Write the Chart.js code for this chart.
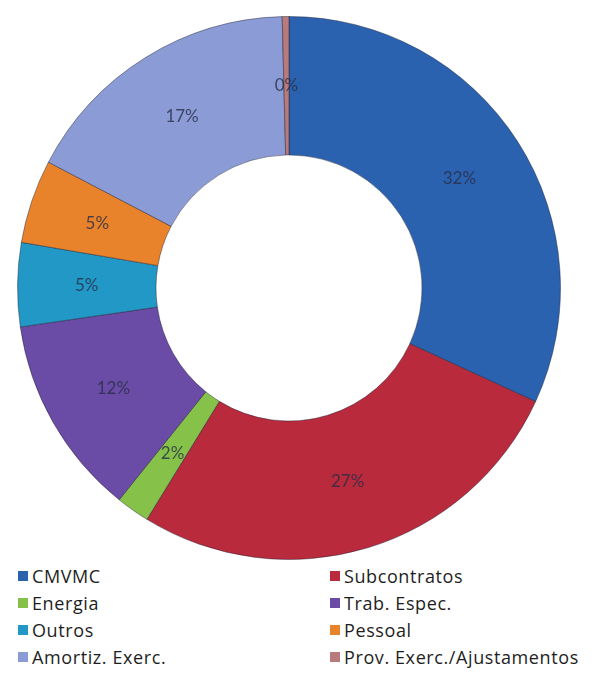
<!DOCTYPE html>
<html>
<head>
<meta charset="utf-8">
<script src="https://cdn.jsdelivr.net/npm/chart.js@4"></script>
<style>
    body { margin: 0; background: #fff; width: 605px; height: 684px; position: relative; overflow: hidden; font-family: 'Open Sans', 'Noto Sans', sans-serif; }
    .chart_box { position: absolute; left: 17px; top: 16px; width: 544px; height: 544px; }
    .legend { position: absolute; left: 18px; top: 565px; display: grid; grid-template-columns: 312px 285px; row-gap: 5px; }
    .legend_item { display: flex; align-items: center; font-size: 18px; color: #1e1e1e; letter-spacing: 0.6px; height: 22px; }
    .legend_box { width: 10px; height: 10px; margin-right: 4px; }
</style>
</head>
<body>
<div class="chart_box"><canvas id="chart_container"></canvas></div>
<div class="legend" id="legend"></div>
<script>
const categories = ['CMVMC', 'Subcontratos', 'Energia', 'Trab. Espec.', 'Outros', 'Pessoal', 'Amortiz. Exerc.', 'Prov. Exerc./Ajustamentos'];
const values = [32, 27, 2, 12, 5, 5, 17, 0.4];
const colors = ['#2b62b0', '#b82a3c', '#86c24a', '#6a4ca6', '#2198c6', '#e8832c', '#8b9bd6', '#b87a7a'];

const total = values.reduce((a, b) => a + b, 0);

// percentage text in the middle of each slice
const sliceLabels = {
    id: 'sliceLabels',
    afterDatasetsDraw(chart) {
        const ctx = chart.ctx;
        const meta = chart.getDatasetMeta(0);
        ctx.save();
        ctx.font = '17px Lato, sans-serif';
        ctx.fillStyle = 'rgba(40, 45, 70, 0.8)';
        ctx.textAlign = 'center';
        ctx.textBaseline = 'middle';
        meta.data.forEach((arc, i) => {
            const pos = arc.tooltipPosition();
            ctx.fillText(Math.round(values[i] / total * 100) + '%', pos.x, pos.y);
        });
        ctx.restore();
    }
};

const ctx = document.getElementById('chart_container').getContext('2d');
new Chart(ctx, {
    type: 'doughnut',
    data: {
        labels: categories,
        datasets: [{
            data: values,
            backgroundColor: colors,
            borderColor: 'rgba(30, 30, 50, 0.45)',
            borderWidth: 1,
        }]
    },
    options: {
        responsive: true,
        maintainAspectRatio: false,
        animation: false,
        cutout: '49%',
        layout: { padding: 0 },
        plugins: {
            legend: { display: false },
            tooltip: { enabled: false }
        }
    },
    plugins: [sliceLabels]
});

const legend = document.getElementById('legend');
categories.forEach((name, i) => {
    legend.innerHTML += `<div class="legend_item"><span class="legend_box" style="background:${colors[i]}"></span>${name}</div>`;
});
</script>
</body>
</html>
